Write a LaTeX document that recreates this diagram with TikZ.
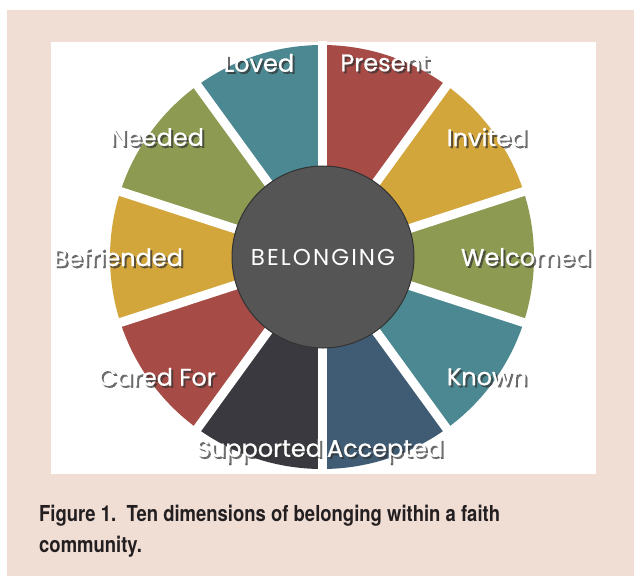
\documentclass[tikz,border=0pt]{standalone}
\usepackage{fontspec}
\usepackage{tikz}
\usetikzlibrary{calc,positioning}
\newfontfamily\wheelfont[FakeBold=0.8]{Poppins}
\newfontfamily\hubfont[LetterSpace=9]{Poppins}
\newfontfamily\capfont[FakeStretch=0.84]{TeX Gyre Heros}
\definecolor{pagepink}{HTML}{F0DDD4}
\definecolor{segred}{HTML}{A64B45}
\definecolor{seggold}{HTML}{D3A63C}
\definecolor{segolive}{HTML}{8C9A52}
\definecolor{segteal}{HTML}{4B8891}
\definecolor{segslate}{HTML}{405C74}
\definecolor{segcoal}{HTML}{3A393F}
\definecolor{hubgrey}{HTML}{555555}
\definecolor{captext}{HTML}{231F20}
\tikzset{
  gap/.style={white,line width=9pt},
  seglabel/.style={white,font=\wheelfont\fontsize{24}{24}\selectfont,inner sep=0pt},
  segshadow/.style={black!80,opacity=.7,font=\wheelfont\fontsize{24}{24}\selectfont,inner sep=0pt},
  caption/.style={captext,font=\capfont\bfseries\fontsize{22}{31}\selectfont,inner sep=0pt}
}

\begin{document}
\begin{tikzpicture}[x=1pt,y=1pt]
\useasboundingbox (0,0) rectangle (634,-576);
\fill[white] (0,0) rectangle (634,-576);
\fill[pagepink] (7,-10) rectangle (634,-576);
\fill[white] (51,-42) rectangle (596,-474);
\coordinate (hub) at (322,-257);
% wedges, clockwise from the top
\foreach \col [count=\i from 0] in {segred,seggold,segolive,segteal,segslate,segcoal,segred,seggold,segolive,segteal}{
  \pgfmathsetmacro\a{90-36*\i}
  \fill[\col] (hub) -- ++(\a:212) arc[start angle=\a, delta angle=-36, radius=212] -- cycle;
}
% white gaps
\foreach \a in {90,54,...,-234}
  \draw[gap] (hub) -- ++(\a:216);
% centre
\node[circle,fill=hubgrey,draw=black!80,line width=1pt,minimum size=182pt,inner sep=0pt] (belong) at ([xshift=1pt]hub) {};
\node[white,font=\hubfont\fontsize{23}{23}\selectfont] (belongtxt) at (belong) {BELONGING};
% labels
\foreach \txt [count=\i from 0] in {Present,Invited,Welcomed,Known,Accepted,Supported,Cared For,Befriended,Needed,Loved}{
  \pgfmathsetmacro\m{72-36*\i}
  \node[segshadow] (shd\i) at ($(hub)+(\m:204)+(2,-2)$) {\txt};
  \node[seglabel] (lbl\i) at ($(hub)+(\m:204)$) {\txt};
}
% caption
\node[caption,anchor=base west] (cap1) at (39,-521) {Figure 1.\ \ Ten dimensions of belonging within a faith};
\node[caption,anchor=base west] (cap2) at ([yshift=-31pt]cap1.base west) {community.};
\end{tikzpicture}
\end{document}
